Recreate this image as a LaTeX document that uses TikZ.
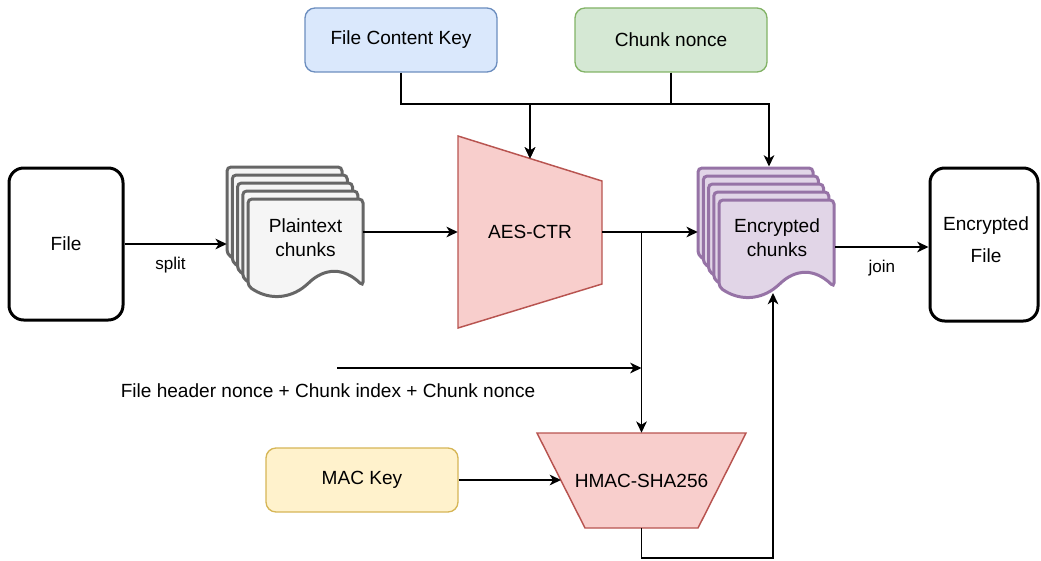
\documentclass[tikz,border=0pt]{standalone}
\usepackage{fontspec}
\setmainfont{Liberation Sans}
\usetikzlibrary{arrows.meta,calc}

\definecolor{plainfill}{HTML}{F5F5F5}
\definecolor{plainedge}{HTML}{666666}
\definecolor{encfill}{HTML}{E1D5E7}
\definecolor{encedge}{HTML}{9673A6}
\definecolor{cipherfill}{HTML}{F8CECC}
\definecolor{cipheredge}{HTML}{B85450}
\definecolor{keyfill}{HTML}{DAE8FC}
\definecolor{keyedge}{HTML}{6C8EBF}
\definecolor{noncefill}{HTML}{D5E8D4}
\definecolor{nonceedge}{HTML}{82B366}
\definecolor{macfill}{HTML}{FFF2CC}
\definecolor{macedge}{HTML}{D6B656}

% one sheet of a chunk stack: top-left corner (#1,#2), wavy bottom edge
\newcommand\chunkpage[3]{%
  \draw[#3] (#1,#2) -- ++(115,0) -- ++(0,87)
    .. controls +(-19.17,-18.67) and +(19.17,-18.67) .. ++(-57.5,0)
    .. controls +(-19.17,13.33) and +(19.17,13.33) .. ++(-57.5,0) -- cycle;}

\begin{document}
\begin{tikzpicture}[x=0.75pt,y=-0.75pt,
  every node/.style={font=\fontsize{14.3pt}{18pt}\selectfont, text=black},
  link/.style={draw=black, line width=1.15pt, -{Stealth[length=8.5pt,width=8pt,inset=2.5pt]}},
  filebox/.style={draw=black, line width=2.25pt, rounded corners=11pt, fill=white,
                  inner sep=0, align=center},
  keybox/.style={line width=1pt, rounded corners=7.5pt, inner sep=0,
                 minimum width=144pt, minimum height=48pt},
  plainpage/.style={draw=plainedge, fill=plainfill, line width=2.25pt, rounded corners=3pt},
  encpage/.style={draw=encedge, fill=encfill, line width=2.25pt, rounded corners=3pt},
  cipher/.style={draw=cipheredge, fill=cipherfill, line width=1.1pt},
  area/.style={inner sep=0},
  edgelabel/.style={font=\fontsize{12.8pt}{15pt}\selectfont}
]
\useasboundingbox (0,0) rectangle (1041,560);

% key material
\node[keybox, draw=keyedge, fill=keyfill] (fck) at (401,40) {File Content Key};
\node[keybox, draw=nonceedge, fill=noncefill] (nonce) at (671,40) {Chunk nonce};
\node[keybox, draw=macedge, fill=macfill] (mac) at (362,480) {MAC Key};

% input and output files
\node[filebox, minimum width=85.5pt, minimum height=114pt] (file) at (66,244) {File};
\node[filebox, minimum width=81pt, minimum height=114.75pt] (efile) at (984,244.5) {};
\node[align=center, font=\fontsize{14.3pt}{24pt}\selectfont] (efiletxt) at (986,239.5) {Encrypted\\File};

% plaintext chunk stack
\foreach \k in {0,...,4} {\chunkpage{227+5.25*\k}{167+8*\k}{plainpage}}
\node[area, minimum width=102pt, minimum height=96.75pt] (plain) at (295,231.5) {};
\node[align=center] (plaintxt) at (305.5,238) {Plaintext\\chunks};

% encrypted chunk stack
\foreach \k in {0,...,4} {\chunkpage{698+5.25*\k}{168+8*\k}{encpage}}
\node[area, minimum width=102.75pt, minimum height=96pt] (enc) at (766.5,232) {};
\node[align=center] (enctxt) at (777,238) {Encrypted\\chunks};

% block cipher and MAC
\draw[cipher] (458,136) -- (602,181) -- (602,284) -- (458,328) -- cycle;
\node[area, minimum width=108pt, minimum height=144pt] (aes) at (530,232) {AES-CTR};
\draw[cipher] (537,433) -- (746,433) -- (698,528) -- (585,528) -- cycle;
\node[area, minimum width=156.75pt, minimum height=71.25pt] (hmac) at (641.5,480.5) {HMAC-SHA256};

% junction points
\coordinate (bus) at (530,104);
\coordinate (aesin) at (530,158.5);
\coordinate (encin) at (769,166.5);
\coordinate (tap) at (641.5,232);
\coordinate (hdr) at (337,368);
\coordinate (hmacin) at (561,480);
\coordinate (corner) at (773,558);
\coordinate (encout) at (773,293);

% key and nonce feed
\draw[link] (fck.south) |- (bus) -- (aesin);
\draw[link] (nonce.south) |- (bus) -- (aesin);
\draw[link] (nonce.south) |- (encin |- bus) -- (encin);

% data path
\draw[link] (file.east) -- node[edgelabel, below=6pt, pos=0.45] {split} (file.east -| plain.west);
\draw[link] (plain.east |- aes.west) -- (aes.west);
\draw[link] (aes.east) -- (enc.west |- aes.east);
\draw[link] ($(enc.east)+(0,15)$) -- node[edgelabel, below=6pt, pos=0.5] {join} ($(efile.west)+(0,2.5)$);

% authentication path
\draw[link] (tap) -- (hmac.north);
\draw[link] (hdr) -- (hdr -| tap);
\node (hdrtxt) at (328,391) {File header nonce + Chunk index + Chunk nonce};
\draw[link] (mac.east) -- (hmacin);
\draw[link] (hmac.south) |- (corner) -- (encout);
\end{tikzpicture}
\end{document}
